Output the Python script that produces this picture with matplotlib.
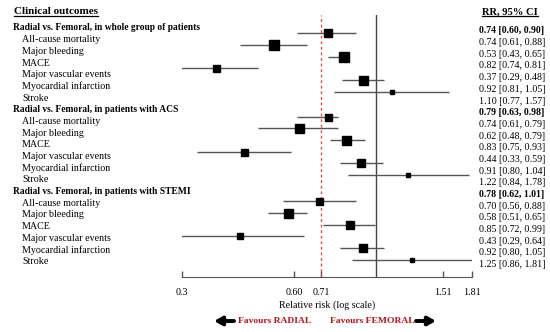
import matplotlib
matplotlib.use('Agg')
import matplotlib.pyplot as plt
from matplotlib.lines import Line2D
from matplotlib.transforms import blended_transform_factory, IdentityTransform

plt.rcParams['font.family'] = ['Liberation Serif', 'DejaVu Serif']

# Subgroups and outcomes
groups = ['whole group of patients', 'patients with ACS', 'patients with STEMI']
outcomes = ['All-cause mortality', 'Major bleeding', 'MACE',
            'Major vascular events', 'Myocardial infarction', 'Stroke']

# Pooled relative risk per subgroup
pooled_rr = [0.74, 0.79, 0.78]
pooled_lo = [0.60, 0.63, 0.62]
pooled_hi = [0.90, 0.98, 1.01]

# Relative risk per outcome, one list per subgroup
rr_whole = [0.74, 0.53, 0.82, 0.37, 0.92, 1.10]
lo_whole = [0.61, 0.43, 0.74, 0.29, 0.81, 0.77]
hi_whole = [0.88, 0.65, 0.81, 0.48, 1.05, 1.57]

rr_acs = [0.74, 0.62, 0.83, 0.44, 0.91, 1.22]
lo_acs = [0.61, 0.48, 0.75, 0.33, 0.80, 0.84]
hi_acs = [0.79, 0.79, 0.93, 0.59, 1.04, 1.78]

rr_stemi = [0.70, 0.58, 0.85, 0.43, 0.92, 1.25]
lo_stemi = [0.56, 0.51, 0.72, 0.29, 0.80, 0.86]
hi_stemi = [0.88, 0.65, 0.99, 0.64, 1.05, 1.81]

tick_values = [0.3, 0.60, 0.71, 1.51, 1.81]
tick_labels = ['0.3', '0.60', '0.71', '1.51', '1.81']

rr = [rr_whole, rr_acs, rr_stemi]
lo = [lo_whole, lo_acs, lo_stemi]
hi = [hi_whole, hi_acs, hi_stemi]

# square sizes (px) reflect study weight
box_px = [[8, 10, 10, 7, 9, 5],
          [7, 9, 9, 7, 8.5, 5],
          [7, 9, 8, 6, 8.5, 5]]
lane_shift = [-0.55, -0.4, -0.15]

RED = '#b3141c'
W, H = 550, 332
ROW0, ROWH = 28, 11.68

fig = plt.figure(figsize=(W / 100, H / 100), dpi=100)


def fx(px):
    return px / W


def fy(py):
    return 1 - py / H


ax = fig.add_axes([fx(182), fy(277), fx(472) - fx(182), fy(15) - fy(277)])
ax.set_xscale('log')
ax.set_xlim(0.3, 1.81)
ax.set_ylim((277 - ROW0) / ROWH, (15 - ROW0) / ROWH)

for s in ['top', 'left', 'right']:
    ax.spines[s].set_visible(False)
ax.spines['bottom'].set_color('#555555')
ax.set_yticks([])
ax.set_xticks(tick_values)
ax.set_xticklabels(tick_labels)
ax.xaxis.set_minor_locator(matplotlib.ticker.NullLocator())
ax.tick_params(axis='x', direction='in', length=4, width=1, color='#555555',
               pad=8, labelsize=7.2)

ax.axvline(1.0, color='#444444', lw=1)
ax.axvline(0.71, color='#e0504a', lw=1, ls=(0, (2, 2)))

left = blended_transform_factory(fig.transFigure, ax.transData)

for g in range(3):
    base = g * 7
    ax.text(fx(13), base, f'Radial vs. Femoral, in {groups[g]}', transform=left,
            fontsize=6.85, fontweight='bold', va='center', ha='left', clip_on=False)
    ax.text(fx(479), base + 0.25, f'{pooled_rr[g]:.2f} [{pooled_lo[g]:.2f}, {pooled_hi[g]:.2f}]',
            transform=left, fontsize=7.0, fontweight='bold', va='center', ha='left',
            clip_on=False)
    for i, name in enumerate(outcomes):
        row = base + 1 + i
        ax.text(fx(22), row, name, transform=left, fontsize=7.2,
                va='center', ha='left', clip_on=False)
        ax.text(fx(479), row + 0.25, f'{rr[g][i]:.2f} [{lo[g][i]:.2f}, {hi[g][i]:.2f}]',
                transform=left, fontsize=7.2, va='center', ha='left', clip_on=False)
        y = row + lane_shift[g]
        ax.hlines(y, lo[g][i], hi[g][i], color='#555555', lw=1)
        ax.plot(rr[g][i], y, 's', color='black', ms=box_px[g][i] * 0.72, mec='black')

t1 = fig.text(fx(14), fy(12), 'Clinical outcomes', fontsize=8, fontweight='bold',
              va='center', ha='left')
t2 = fig.text(fx(510), fy(12), 'RR, 95% CI', fontsize=7.6, fontweight='bold',
              va='center', ha='center')

fig.text(fx(327), fy(305), 'Relative risk (log scale)', fontsize=7.2,
         va='center', ha='center')
fig.text(fx(238), fy(321), 'Favours RADIAL', fontsize=6.8, fontweight='bold',
         color=RED, va='center', ha='left')
fig.text(fx(330), fy(321), 'Favours FEMORAL', fontsize=6.8, fontweight='bold',
         color=RED, va='center', ha='left')

arrow = dict(arrowstyle='-|>,head_width=0.25,head_length=0.45', lw=2.8, color='black',
             shrinkA=0, shrinkB=0)
ax.annotate('', xy=(214, H - 321), xytext=(234, H - 321), xycoords='figure pixels',
            textcoords='figure pixels', arrowprops=arrow, annotation_clip=False)
ax.annotate('', xy=(436, H - 321), xytext=(416, H - 321), xycoords='figure pixels',
            textcoords='figure pixels', arrowprops=arrow, annotation_clip=False)

# underline the two column titles
fig.canvas.draw()
renderer = fig.canvas.get_renderer()
for t in (t1, t2):
    bb = t.get_window_extent(renderer)
    fig.add_artist(Line2D([bb.x0, bb.x1], [bb.y0 + 0.5, bb.y0 + 0.5], color='black',
                          lw=0.9, transform=IdentityTransform()))

fig.savefig('out.png', dpi=100)
